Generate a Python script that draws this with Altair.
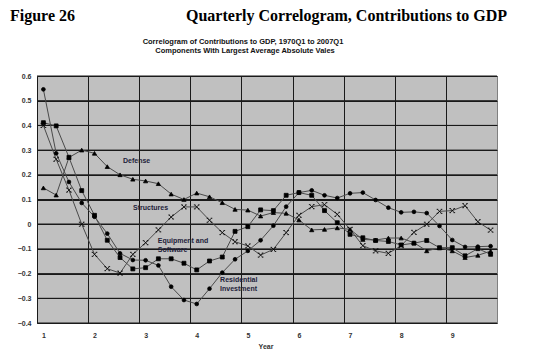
import altair as alt
import pandas as pd

lags = list(range(1, 37))
residential = [0.546, 0.287, 0.171, 0.086, 0.030, -0.038, -0.118, -0.145, -0.146, -0.167,
               -0.253, -0.307, -0.323, -0.261, -0.196, -0.142, -0.108, -0.065, -0.006, 0.071,
               0.128, 0.137, 0.117, 0.106, 0.125, 0.128, 0.098, 0.067, 0.048, 0.050,
               0.045, -0.007, -0.064, -0.092, -0.091, -0.089]
equipment = [0.411, 0.398, 0.271, 0.136, 0.036, -0.065, -0.135, -0.181, -0.176, -0.140,
             -0.140, -0.158, -0.185, -0.149, -0.133, -0.029, -0.010, 0.058, 0.055, 0.117,
             0.128, 0.117, 0.055, 0.006, -0.041, -0.055, -0.066, -0.070, -0.084, -0.077,
             -0.066, -0.095, -0.095, -0.128, -0.099, -0.122]
structures = [0.400, 0.263, 0.138, 0.000, -0.122, -0.180, -0.198, -0.122, -0.075, -0.023,
              0.029, 0.070, 0.070, 0.016, -0.034, -0.071, -0.088, -0.125, -0.102, -0.034,
              0.036, 0.071, 0.079, 0.040, -0.021, -0.087, -0.108, -0.118, -0.087, -0.033,
              0.000, 0.052, 0.055, 0.075, 0.010, -0.024]
defense = [0.147, 0.118, 0.270, 0.300, 0.287, 0.233, 0.200, 0.182, 0.175, 0.164,
           0.122, 0.100, 0.126, 0.111, 0.087, 0.060, 0.057, 0.033, 0.047, 0.044,
           0.017, -0.023, -0.021, -0.015, -0.021, -0.062, -0.064, -0.056, -0.056, -0.075,
           -0.108, -0.096, -0.108, -0.135, -0.126, -0.109]

series_names = ["Defense", "Structures", "Equipment and Software", "Residential Investment"]
series_values = [defense, structures, equipment, residential]

label_text = ["Defense", "Structures", "Equipment and\nSoftware", "Residential\nInvestment"]
label_lag = [7.23, 8.02, 9.95, 14.83]
label_val = [0.272, 0.082, -0.052, -0.21]

y_ticks = [-0.4, -0.3, -0.2, -0.1, 0.0, 0.1, 0.2, 0.3, 0.4, 0.5, 0.6]
x_ticks = [1, 5, 9, 13, 17, 21, 25, 29, 33]

rows = []
for name, vals in zip(series_names, series_values):
    for lag, v in zip(lags, vals):
        rows.append({"series": name, "lag": lag, "value": v})
df = pd.DataFrame(rows)

lab_df = pd.DataFrame({"text": label_text, "lag": label_lag, "value": label_val})
grid_df = pd.DataFrame({"value": y_ticks,
                        "x0": [0.5] * len(y_ticks), "x1": [36.5] * len(y_ticks),
                        "w": [1.6 if v == 0 else 1.0 for v in y_ticks]})

W, H = 460, 247
ppl = W / 36.0

x_scale = alt.Scale(domain=[0.5, 36.5], nice=False, zero=False)
y_scale = alt.Scale(domain=[-0.4, 0.6], nice=False, zero=False)

x_axis = alt.Axis(values=x_ticks, labelExpr="(datum.value - 1) / 4 + 1", title=None,
                  grid=True, gridColor="#1a1a1a", gridWidth=1, gridOpacity=1,
                  tickOffset=-ppl / 2, labelOffset=ppl / 2, ticks=False, domain=False,
                  labelFont="Liberation Sans", labelFontSize=7, labelFontWeight="bold",
                  labelColor="#333333", labelPadding=8)
y_axis = alt.Axis(values=y_ticks, format=".1~f", title=None, grid=True,
                  gridColor="#1a1a1a", gridWidth=1, gridOpacity=1, ticks=False,
                  domain=False, labelFont="Liberation Sans", labelFontSize=7,
                  labelFontWeight="bold", labelColor="#333333", labelPadding=6)

hgrid = alt.Chart(grid_df).mark_rule(color="#1a1a1a", opacity=1).encode(
    x=alt.X("x0:Q", scale=x_scale, axis=x_axis),
    x2="x1:Q",
    y=alt.Y("value:Q", scale=y_scale, axis=y_axis),
    strokeWidth=alt.StrokeWidth("w:Q", scale=None, legend=None),
)

base = alt.Chart(df).encode(
    x=alt.X("lag:Q", scale=x_scale, axis=x_axis),
    y=alt.Y("value:Q", scale=y_scale, axis=y_axis),
)

lines = base.mark_line(color="#4a4a4a", strokeWidth=1).encode(
    detail="series:N"
)

x_path = "M-1,-1L1,1M-1,1L1,-1M-0.6,-1L-1.4,-1M0.6,-1L1.4,-1M-0.6,1L-1.4,1M0.6,1L1.4,1"
points = base.mark_point(fill="black", stroke="black", strokeWidth=0.8, opacity=1,
                         fillOpacity=1).encode(
    shape=alt.Shape("series:N", scale=alt.Scale(domain=series_names,
                    range=["triangle-up", x_path, "square", "circle"]), legend=None),
    size=alt.Size("series:N", scale=alt.Scale(domain=series_names,
                  range=[18, 14, 28, 9]), legend=None),
)

labels = alt.Chart(lab_df).mark_text(
    align="left", baseline="top", lineBreak="\n", font="Liberation Sans",
    fontSize=7, fontWeight="bold", color="#22223a", lineHeight=9
).encode(
    x=alt.X("lag:Q", scale=x_scale, axis=x_axis),
    y=alt.Y("value:Q", scale=y_scale, axis=y_axis),
    text="text:N",
)

one = pd.DataFrame({"a": [0]})

def txt(s, x, y, size, font, align="left", weight="bold", color="#000000"):
    return alt.Chart(one).mark_text(
        text=s, align=align, baseline="alphabetic", fontSize=size, font=font,
        fontWeight=weight, color=color
    ).encode(x=alt.value(x), y=alt.value(y))

fig = txt("Figure 26", -27, -55, 16, "Liberation Serif")
main = txt("Quarterly Correlogram, Contributions to GDP", 470, -55, 16, "Liberation Serif", align="right")
sub1 = txt("Correlogram of Contributions to GDP, 1970Q1 to 2007Q1", 206, -32, 7.5, "Liberation Sans", align="center", color="#111111")
sub2 = txt("Components With Largest Average Absolute Vales", 208, -23, 7.5, "Liberation Sans", align="center", color="#111111")
year = txt("Year", 229, 273, 7, "Liberation Sans", align="center", color="#333333")

chart = alt.layer(hgrid, lines, points, labels, fig, main, sub1, sub2, year).properties(
    width=W, height=H,
    autosize=alt.AutoSizeParams(type="none"),
    padding={"left": 29, "top": 68, "right": 27, "bottom": 26},
    background="white",
).configure_view(fill="#c0c0c0", stroke="#808080", strokeWidth=1)

chart.save("out.html", embed_options={"renderer": "svg", "actions": False})
